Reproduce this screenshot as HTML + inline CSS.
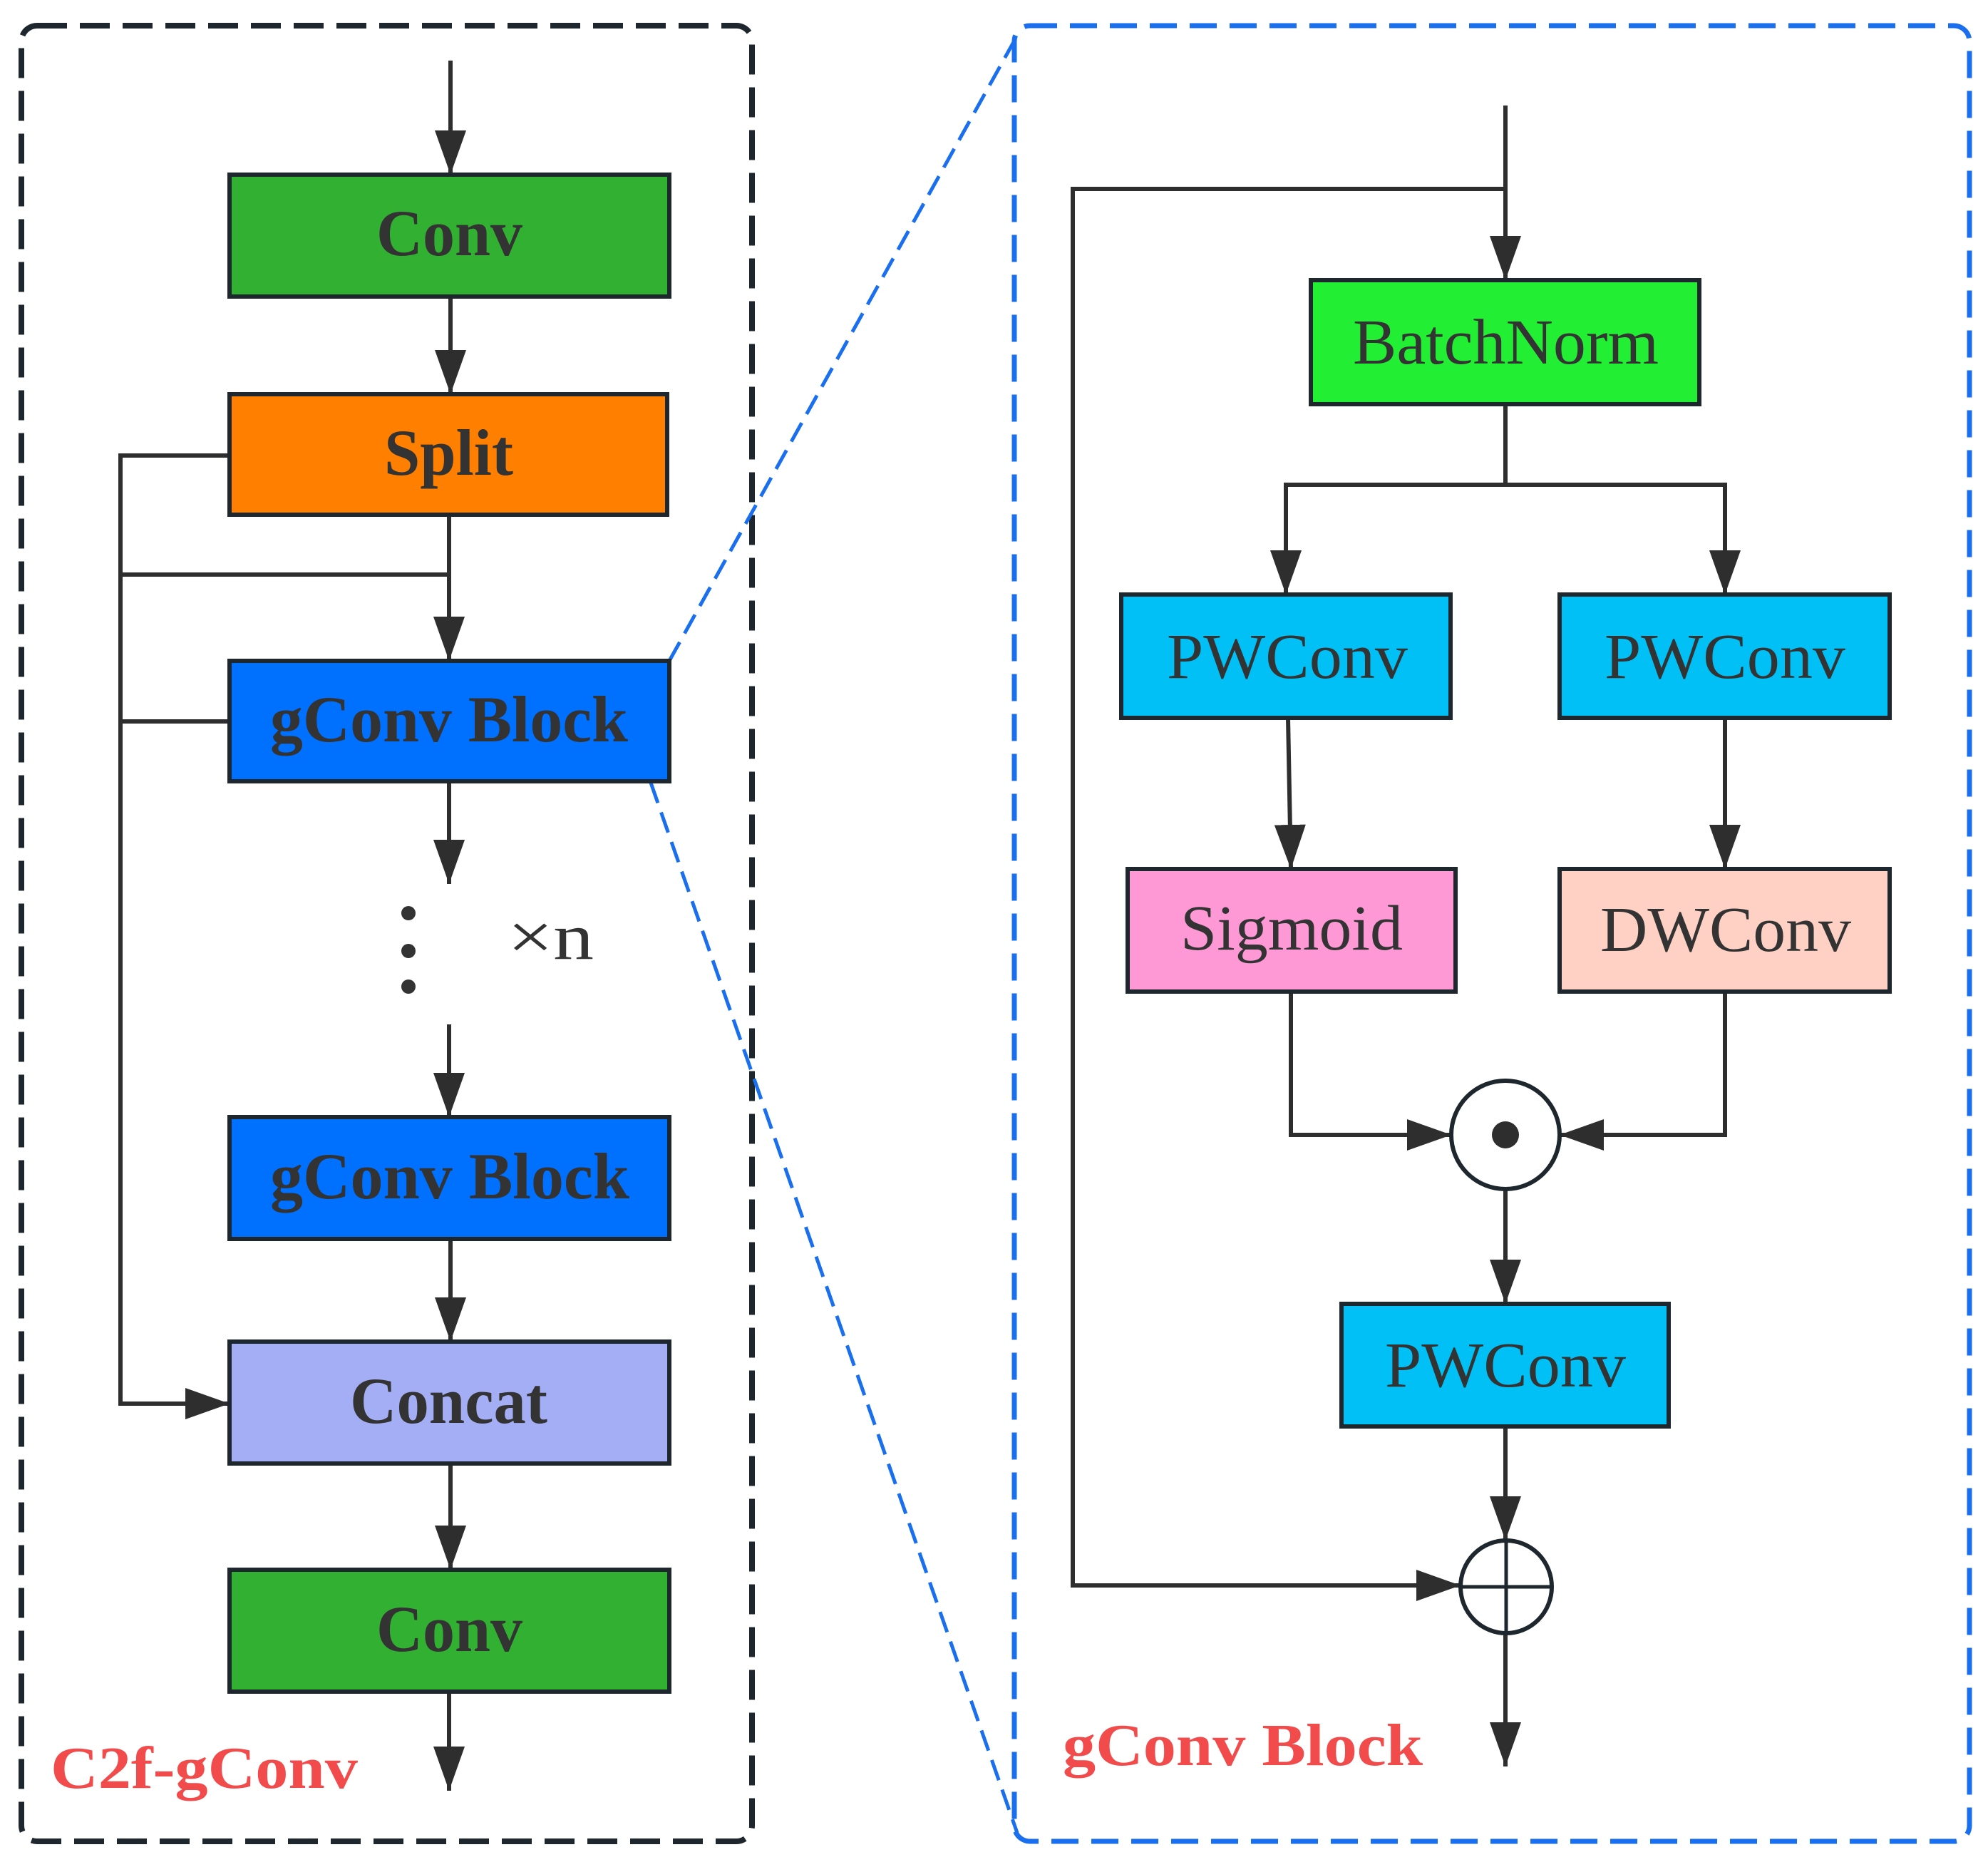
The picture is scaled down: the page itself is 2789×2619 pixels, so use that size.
<!DOCTYPE html>
<html><head><meta charset="utf-8"><style>html,body{margin:0;padding:0;background:#fff}svg{display:block}</style></head>
<body>
<svg width="2789" height="2619" viewBox="0 0 2789 2619" xmlns="http://www.w3.org/2000/svg">
<defs>
<marker id="a" viewBox="0 0 62 44" refX="62" refY="22" markerWidth="62" markerHeight="44" markerUnits="userSpaceOnUse" orient="auto"><path d="M0,0 L62,22 L0,44 Z" fill="#2e2e2e"/></marker>
</defs>
<!-- dashed boxes -->
<rect x="30" y="36" width="1025" height="2547" rx="22" fill="none" stroke="#1e272d" stroke-width="8" stroke-dasharray="42,18"/>
<rect x="1423" y="36" width="1340" height="2547" rx="22" fill="none" stroke="#1a6fef" stroke-width="7" stroke-dasharray="38,18"/>
<line x1="939" y1="927" x2="1427" y2="50" stroke="#1a6fef" stroke-width="5" stroke-dasharray="30,14"/>
<line x1="913" y1="1098" x2="1427" y2="2571" stroke="#1a6fef" stroke-width="5" stroke-dasharray="30,14"/>

<g stroke="#2e2e2e" stroke-width="6" fill="none">
<line x1="632" y1="85" x2="632" y2="245" marker-end="url(#a)"/>
<line x1="632" y1="416" x2="632" y2="553" marker-end="url(#a)"/>
<line x1="630" y1="722" x2="630" y2="927" marker-end="url(#a)"/>
<polyline points="322,639 169,639 169,1969 322,1969" marker-end="url(#a)"/>
<line x1="169" y1="806" x2="630" y2="806"/>
<line x1="169" y1="1012" x2="322" y2="1012"/>
<line x1="630" y1="1096" x2="630" y2="1240" marker-end="url(#a)"/>
<line x1="630" y1="1437" x2="630" y2="1567" marker-end="url(#a)"/>
<line x1="632" y1="1738" x2="632" y2="1882" marker-end="url(#a)"/>
<line x1="632" y1="2053" x2="632" y2="2202" marker-end="url(#a)"/>
<line x1="630" y1="2373" x2="630" y2="2512" marker-end="url(#a)"/>
<line x1="2112" y1="148" x2="2112" y2="393" marker-end="url(#a)"/>
<polyline points="2112,265 1505,265 1505,2224 2049,2224" marker-end="url(#a)"/>
<line x1="2112" y1="567" x2="2112" y2="680"/>
<polyline points="1804,760 1804,680 2420,680 2420,760"/>
<line x1="1804" y1="760" x2="1804" y2="834" marker-end="url(#a)"/>
<line x1="2420" y1="760" x2="2420" y2="834" marker-end="url(#a)"/>
<line x1="1807" y1="1007" x2="1811" y2="1219" marker-end="url(#a)"/>
<line x1="2420" y1="1007" x2="2420" y2="1219" marker-end="url(#a)"/>
<polyline points="1811,1391 1811,1592 2036,1592" marker-end="url(#a)"/>
<polyline points="2420,1391 2420,1592 2188,1592" marker-end="url(#a)"/>
<line x1="2112" y1="1668" x2="2112" y2="1829" marker-end="url(#a)"/>
<line x1="2112" y1="2001" x2="2112" y2="2161" marker-end="url(#a)"/>
<line x1="2112" y1="2291" x2="2112" y2="2478" marker-end="url(#a)"/>
</g>

<g stroke="#1e272d" stroke-width="6">
<rect x="322" y="245" width="617" height="171" fill="#32b032"/>
<rect x="322" y="553" width="614" height="169" fill="#ff8000"/>
<rect x="322" y="927" width="617" height="169" fill="#0070ff"/>
<rect x="322" y="1567" width="617" height="171" fill="#0070ff"/>
<rect x="322" y="1882" width="617" height="171" fill="#a4aef5"/>
<rect x="322" y="2202" width="617" height="171" fill="#32b032"/>
<rect x="1839" y="393" width="545" height="174" fill="#22ee33"/>
<rect x="1573" y="834" width="462" height="173" fill="#00c0f5"/>
<rect x="2188" y="834" width="463" height="173" fill="#00c0f5"/>
<rect x="1582" y="1219" width="460" height="172" fill="#ff99d6"/>
<rect x="2188" y="1219" width="463" height="172" fill="#ffd1c4"/>
<rect x="1882" y="1829" width="459" height="172" fill="#00c0f5"/>
</g>
<circle cx="2112" cy="1592" r="76" fill="#fff" stroke="#1e272d" stroke-width="6"/>
<circle cx="2112" cy="1592" r="19" fill="#2e2e2e"/>
<ellipse cx="2113" cy="2226" rx="64" ry="65" fill="#fff" stroke="#1e272d" stroke-width="6"/>
<line x1="2049" y1="2226" x2="2177" y2="2226" stroke="#1e272d" stroke-width="5"/>
<line x1="2113" y1="2161" x2="2113" y2="2291" stroke="#1e272d" stroke-width="5"/>
<circle cx="573" cy="1281" r="10" fill="#333"/>
<circle cx="573" cy="1334" r="10" fill="#333"/>
<circle cx="573" cy="1384" r="10" fill="#333"/>

<g font-family="Liberation Serif, serif" fill="#333">
<g font-weight="bold" font-size="92">
<text x="528" y="358" textLength="205" lengthAdjust="spacingAndGlyphs">Conv</text>
<text x="539" y="666" textLength="181" lengthAdjust="spacingAndGlyphs">Split</text>
<text x="379" y="1040" textLength="502" lengthAdjust="spacingAndGlyphs">gConv Block</text>
<text x="379" y="1681" textLength="504" lengthAdjust="spacingAndGlyphs">gConv Block</text>
<text x="491" y="1996" textLength="277" lengthAdjust="spacingAndGlyphs">Concat</text>
<text x="528" y="2316" textLength="205" lengthAdjust="spacingAndGlyphs">Conv</text>
</g>
<text x="712" y="1345" font-size="92" textLength="121" lengthAdjust="spacingAndGlyphs">×n</text>
<g font-size="90">
<text x="1898" y="510" textLength="429" lengthAdjust="spacingAndGlyphs">BatchNorm</text>
<text x="1637" y="951" textLength="338" lengthAdjust="spacingAndGlyphs">PWConv</text>
<text x="2251" y="951" textLength="338" lengthAdjust="spacingAndGlyphs">PWConv</text>
<text x="1656" y="1332" textLength="312" lengthAdjust="spacingAndGlyphs">Sigmoid</text>
<text x="2245" y="1334" textLength="352" lengthAdjust="spacingAndGlyphs">DWConv</text>
<text x="1943" y="1945" textLength="338" lengthAdjust="spacingAndGlyphs">PWConv</text>
</g>
<g font-weight="bold" font-size="84" fill="#f24b4b">
<text x="71" y="2508" textLength="431" lengthAdjust="spacingAndGlyphs">C2f-gConv</text>
<text x="1491" y="2476" textLength="505" lengthAdjust="spacingAndGlyphs">gConv Block</text>
</g>
</g>
</svg>
</body></html>
